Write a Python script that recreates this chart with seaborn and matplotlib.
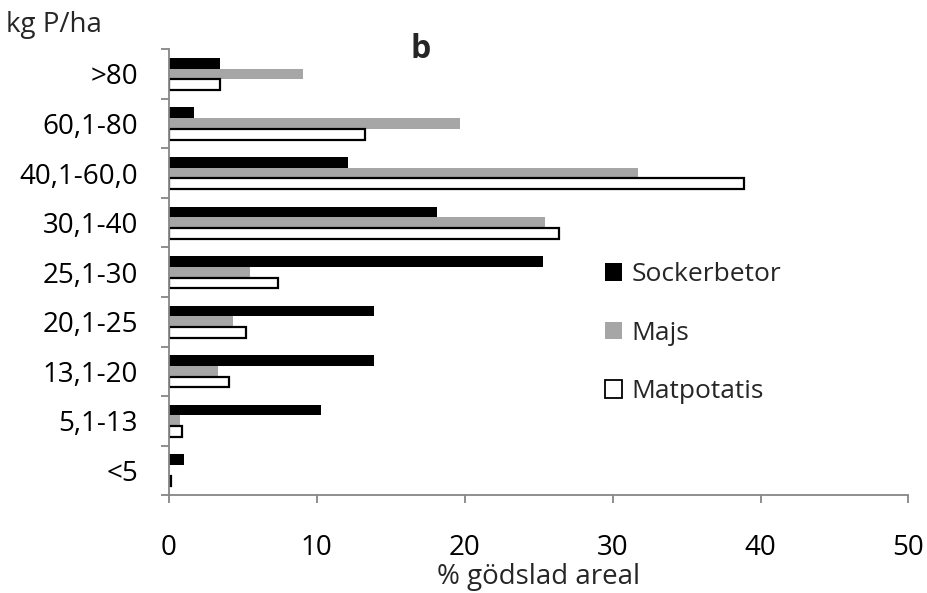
import matplotlib
matplotlib.use("Agg")
import matplotlib.pyplot as plt
from matplotlib.patches import Patch
from matplotlib.ticker import FixedLocator
import seaborn as sns
import pandas as pd

# Phosphorus application classes (kg P/ha), listed top to bottom
klasser = [">80", "60,1-80", "40,1-60,0", "30,1-40", "25,1-30",
           "20,1-25", "13,1-20", "5,1-13", "<5"]
grodor = ["Sockerbetor", "Majs", "Matpotatis"]

# Share of fertilised area (%) per class
sockerbetor = [3.5, 1.7, 12.1, 18.1, 25.3, 13.9, 13.9, 10.3, 1.05]
majs = [9.1, 19.7, 31.7, 25.4, 5.5, 4.35, 3.3, 0.75, 0.1]
matpotatis = [3.5, 13.3, 38.9, 26.4, 7.4, 5.2, 4.1, 0.9, 0.15]

x_ticks = [0, 10, 20, 30, 40, 50]

farger = ["#000000", "#A6A6A6", "#FFFFFF"]
axel_farg = "#868686"
fs = 20

df = pd.DataFrame({
    "klass": klasser * 3,
    "gröda": [g for g in grodor for _ in klasser],
    "andel": sockerbetor + majs + matpotatis,
})

sns.set_theme(style="white")
plt.rcParams["font.family"] = ["Open Sans", "DejaVu Sans"]

fig = plt.figure(figsize=(9.27, 5.93), dpi=100)
ax = fig.add_axes([0.182, 0.165, 0.798, 0.752])

sns.barplot(data=df, y="klass", x="andel", hue="gröda", order=klasser,
            hue_order=grodor, palette=farger, orient="h", width=0.65,
            errorbar=None, legend=False, ax=ax, linewidth=0)

# outline for the white bars
for patch in ax.containers[2]:
    patch.set_edgecolor("#000000")
    patch.set_linewidth(1.6)

ax.set_xlim(0, 50)
ax.set_ylim(len(klasser) - 0.5, -0.5)
ax.set_xticks(x_ticks)
ax.set_xticklabels([str(t) for t in x_ticks])

# category labels at centres, tick marks at the category boundaries
ax.yaxis.set_minor_locator(FixedLocator([i - 0.5 for i in range(len(klasser) + 1)]))
ax.tick_params(axis="y", which="major", length=0, pad=22, labelsize=fs, colors="#000000")
ax.tick_params(axis="y", which="minor", left=True, length=6, width=1.3, color=axel_farg)
ax.tick_params(axis="x", which="major", bottom=True, length=6, width=1.3, color=axel_farg,
               direction="out", pad=22, labelsize=fs, labelcolor="#000000")

for side in ["top", "right"]:
    ax.spines[side].set_visible(False)
for side in ["left", "bottom"]:
    ax.spines[side].set_color(axel_farg)
    ax.spines[side].set_linewidth(1.3)

ax.set_ylabel("")
ax.set_xlabel("% gödslad areal", fontsize=fs, va="baseline")
ax.xaxis.set_label_coords(0.5, -0.199)
ax.grid(False)

ax.text(0.34, 1.0, "b", transform=ax.transAxes, fontsize=23, fontweight="bold",
        ha="center", va="center")
fig.text(0.006, 0.958, "kg P/ha", fontsize=fs, ha="left", va="center")

handles = [Patch(facecolor=farger[0], edgecolor="#000000", linewidth=0),
           Patch(facecolor=farger[1], edgecolor=farger[1], linewidth=0),
           Patch(facecolor=farger[2], edgecolor="#000000", linewidth=1.3)]
ax.legend(handles, grodor, loc="upper left", bbox_to_anchor=(0.6526, 0.558),
          bbox_transform=fig.transFigure, frameon=False, fontsize=19,
          handlelength=0.65, handleheight=0.65, handletextpad=0.35,
          labelspacing=1.27, borderaxespad=0, borderpad=0)

fig.savefig("out.png", dpi=100, facecolor="white")
